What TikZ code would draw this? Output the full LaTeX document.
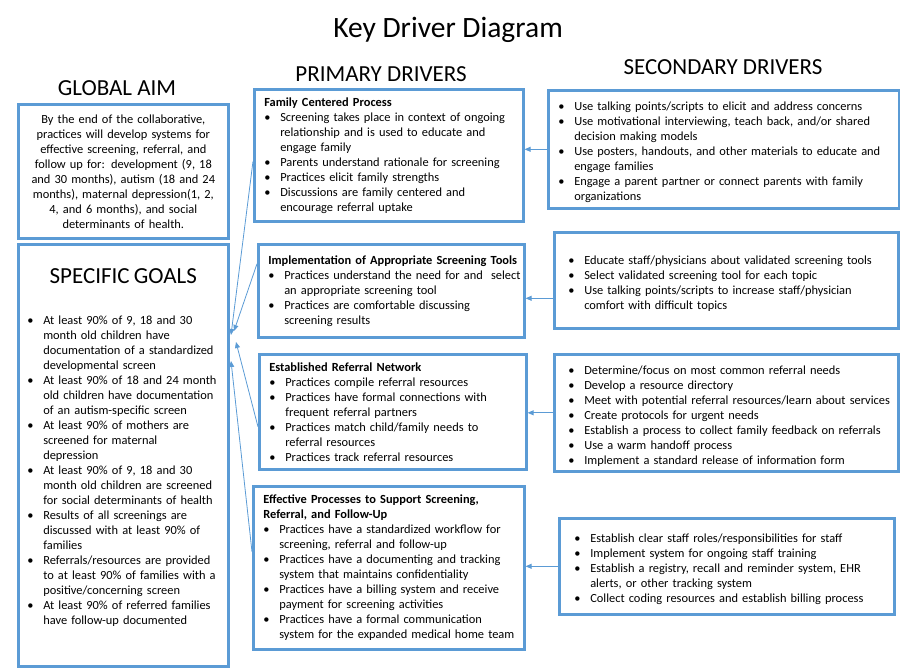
\documentclass[tikz,border=0pt]{standalone}
\usepackage{fontspec}
\setmainfont{Carlito}
\usepackage{enumitem}
\usetikzlibrary{arrows.meta}
\definecolor{boxblue}{RGB}{91,155,213}
\setlist[itemize]{nosep,leftmargin=16pt,labelwidth=16pt,labelsep=0pt,align=left,label=\textbullet}
\tikzset{drvbox/.style={draw=boxblue,line width=2.6pt,anchor=north west,inner xsep=10pt,
           inner ysep=4pt,align=left,font=\fontsize{12.4}{15}\selectfont},
         head/.style={font=\fontsize{23}{27}\selectfont},
         arr/.style={draw=boxblue,line width=0.8pt,-{Triangle[length=6pt,width=5pt]}}
        }

\begin{document}
\begin{tikzpicture}[x=1pt,y=-1pt]
\useasboundingbox (0,0) rectangle (900,672);

% headings
\node[font=\fontsize{29.5}{34}\selectfont] (title) at (448,30) {Key Driver Diagram};
\node[head] (aimhd) at (117,88) {GLOBAL AIM};
\node[head] (prihd) at (381,74) {PRIMARY DRIVERS};
\node[head] (sechd) at (723,67) {SECONDARY DRIVERS};

% left column
\node[drvbox,align=center,minimum width=210pt,minimum height=134pt,text width=190pt] (aim) at (17,103)
  {By the end of the collaborative,\\ practices will develop systems for\\ effective screening, referral, and\\
   follow up for: development (9, 18\\ and 30 months), autism (18 and 24\\ months), maternal depression(1, 2,\\
   4, and 6 months), and social\\ determinants of health.};
\node[drvbox,inner xsep=9pt,minimum width=210pt,minimum height=422pt,text width=192pt] (goals) at (17,243)
  {{\centering\fontsize{23}{27}\selectfont SPECIFIC GOALS\par}\vspace{26pt}
   \begin{itemize}
   \item At least 90\% of 9, 18 and 30\\ month old children have\\ documentation of a standardized\\ developmental screen
   \item At least 90\% of 18 and 24 month\\ old children have documentation\\ of an autism-specific screen
   \item At least 90\% of mothers are\\ screened for maternal\\ depression
   \item At least 90\% of 9, 18 and 30\\ month old children are screened\\ for social determinants of health
   \item Results of all screenings are\\ discussed with at least 90\% of\\ families
   \item Referrals/resources are provided\\ to at least 90\% of families with a\\ positive/concerning screen
   \item At least 90\% of referred families\\ have follow-up documented
   \end{itemize}\vspace{2pt}\null};

% primary drivers
\node[drvbox,minimum width=269pt,minimum height=132pt,text width=249pt] (p1) at (253,88)
  {\mbox{\textbf{Family Centered Process}}
   \begin{itemize}
   \item Screening takes place in context of ongoing\\ relationship and is used to educate and\\ engage family
   \item Parents understand rationale for screening
   \item Practices elicit family strengths
   \item Discussions are family centered and\\ encourage referral uptake
   \end{itemize}};
\node[drvbox,minimum width=266pt,minimum height=93pt,text width=246pt] (p2) at (257,243)
  {\mbox{\textbf{Implementation of Appropriate Screening Tools}}
   \begin{itemize}
   \item \makebox[0pt][l]{Practices understand the need for and\ \ select}\\ an appropriate screening tool
   \item Practices are comfortable discussing\\ screening results
   \end{itemize}};
\node[drvbox,minimum width=267pt,minimum height=115pt,text width=247pt] (p3) at (258,353)
  {\mbox{\textbf{Established Referral Network}}
   \begin{itemize}
   \item Practices compile referral resources
   \item Practices have formal connections with\\ frequent referral partners
   \item Practices match child/family needs to\\ referral resources
   \item Practices track referral resources
   \end{itemize}};
\node[drvbox,minimum width=271pt,minimum height=163pt,text width=251pt] (p4) at (252,485)
  {\mbox{\textbf{Effective Processes to Support Screening,}}\\ \mbox{\textbf{Referral, and Follow-Up}}
   \begin{itemize}
   \item Practices have a standardized workflow for\\ screening, referral and follow-up
   \item Practices have a documenting and tracking\\ system that maintains confidentiality
   \item Practices have a billing system and receive\\ payment for screening activities
   \item Practices have a formal communication\\ system for the expanded medical home team
   \end{itemize}};

% secondary drivers
\node[drvbox,minimum width=351pt,minimum height=118pt,text width=331pt] (s1) at (547,89)
  {\begin{itemize}
   \item Use talking points/scripts to elicit and address concerns
   \item Use motivational interviewing, teach back, and/or shared\\ decision making models
   \item Use posters, handouts, and other materials to educate and\\ engage families
   \item Engage a parent partner or connect parents with family\\ organizations
   \end{itemize}};
\node[drvbox,inner xsep=14pt,minimum width=344pt,minimum height=96pt,text width=316pt] (s2) at (553,231)
  {\begin{itemize}
   \item Educate staff/physicians about validated screening tools
   \item Select validated screening tool for each topic
   \item Use talking points/scripts to increase staff/physician\\ comfort with difficult topics
   \end{itemize}};
\node[drvbox,inner xsep=14pt,minimum width=344pt,minimum height=117pt,text width=316pt] (s3) at (553,353)
  {\begin{itemize}
   \item Determine/focus on most common referral needs
   \item Develop a resource directory
   \item \makebox[0pt][l]{Meet with potential referral resources/learn about services}
   \item Create protocols for urgent needs
   \item Establish a process to collect family feedback on referrals
   \item Use a warm handoff process
   \item Implement a standard release of information form
   \end{itemize}};
\node[drvbox,inner xsep=15pt,minimum width=335pt,minimum height=96pt,text width=305pt] (s4) at (558,517)
  {\begin{itemize}
   \item Establish clear staff roles/responsibilities for staff
   \item Implement system for ongoing staff training
   \item Establish a registry, recall and reminder system, EHR\\ alerts, or other tracking system
   \item Collect coding resources and establish billing process
   \end{itemize}};

% arrow ends beside the goals box
\coordinate (h1) at (231,335);
\coordinate (h2) at (234,331);
\coordinate (h3) at (236,342);
\coordinate (h4) at (231,361);

% secondary -> primary
\draw[arr] (s1.west) -- (s1.west -| p1.east);
\draw[arr] ([yshift=-18pt]s2.west) -- ([yshift=-18pt]s2.west -| p2.east);
\draw[arr] (s3.west) -- (s3.west -| p3.east);
\draw[arr] (s4.west) -- (s4.west -| p4.east);

% primary -> goals
\draw[arr] ([yshift=-6pt]p1.west) -- (h1);
\draw[arr] ([yshift=27pt]p2.west) -- (h2);
\draw[arr] ([yshift=-15pt]p3.west) -- (h3);
\draw[arr] ([yshift=16pt]p4.west) -- (h4);
\end{tikzpicture}
\end{document}
